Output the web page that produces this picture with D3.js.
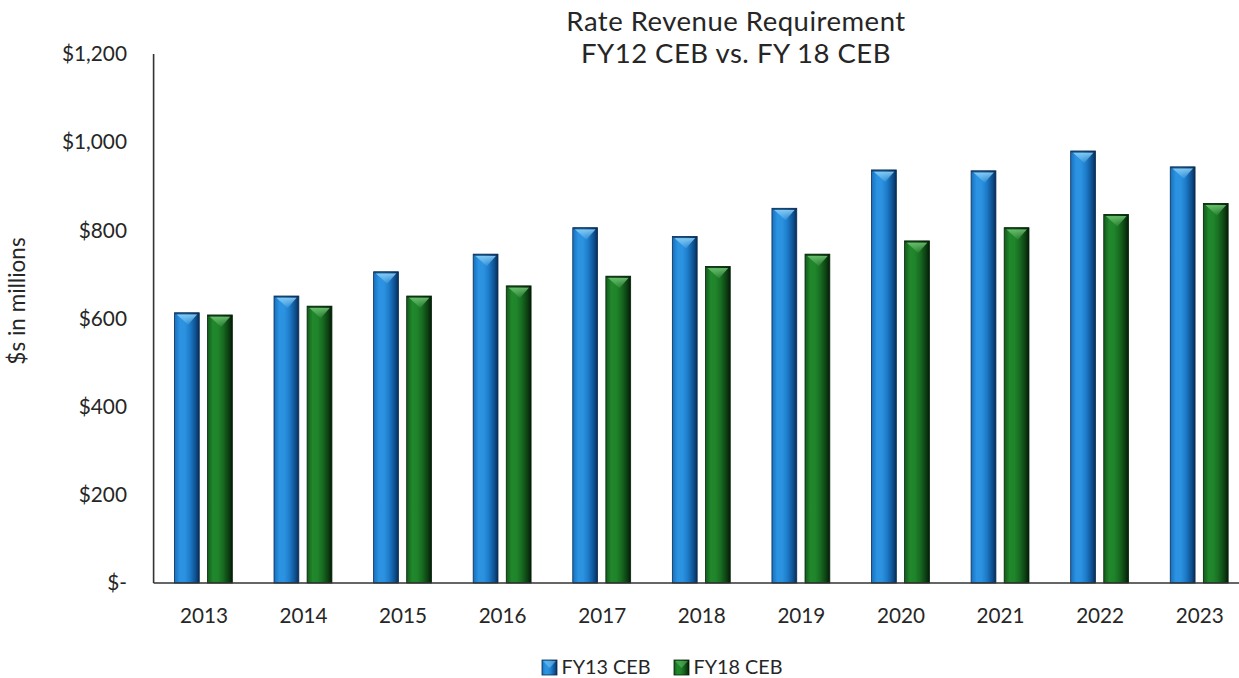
<!DOCTYPE html>
<html>
<head>
<meta charset="utf-8">
<script src="https://cdn.jsdelivr.net/npm/d3@7"></script>
<style>
  html, body { margin: 0; padding: 0; background: #fff; }
  svg { display: block; }
  text { font-family: Lato, "Open Sans", sans-serif; fill: #262626; }
</style>
</head>
<body>
<svg id="chart" width="1239" height="678"></svg>
<script>
// Rate revenue requirement, $ millions, by fiscal year
const years = ["2013", "2014", "2015", "2016", "2017", "2018", "2019", "2020", "2021", "2022", "2023"];
const fy13 = [613, 651, 706, 746, 806, 786, 850, 937, 935, 980, 944];
const fy18 = [608, 628, 651, 674, 696, 718, 746, 776, 806, 836, 861];
const seriesNames = ["FY13 CEB", "FY18 CEB"];
const yTicks = [0, 200, 400, 600, 800, 1000, 1200];
const titleLines = ["Rate Revenue Requirement", "FY12 CEB vs. FY 18 CEB"];
const yTitle = "$s in millions";

const svg = d3.select("#chart");
const W = 1239, H = 678;
const plot = { left: 153.6, right: 1249, top: 54, bottom: 583 };

const x = d3.scaleBand().domain(years).range([plot.left, plot.right]).paddingInner(0).paddingOuter(0);
const inner = d3.scaleBand().domain(seriesNames).range([0, x.bandwidth()]).paddingInner(0.25).paddingOuter(0.63);
const y = d3.scaleLinear().domain([0, 1200]).range([plot.bottom, plot.top]);

// column shading: each series gets a horizontal gradient and a bevel highlight
const palettes = {
  "FY13 CEB": { id: "gBlue", stops: ["#1770bd", "#2b93e2", "#2c92e0", "#1d7cca", "#0e4f8e", "#082c55"], hi: "#86cdf6", edge: "#0a2c52" },
  "FY18 CEB": { id: "gGreen", stops: ["#135a1c", "#21882c", "#1f842a", "#186c21", "#0c3e12", "#041b07"], hi: "#6cc070", edge: "#052208" }
};
const defs = svg.append("defs");
Object.values(palettes).forEach(p => {
  const g = defs.append("linearGradient").attr("id", p.id).attr("x1", "0").attr("x2", "1").attr("y1", "0").attr("y2", "0");
  const offs = [0, 0.22, 0.42, 0.62, 0.86, 1];
  p.stops.forEach((c, i) => g.append("stop").attr("offset", offs[i]).attr("stop-color", c));
  const t = defs.append("linearGradient").attr("id", p.id + "Top").attr("x1", "0").attr("x2", "0").attr("y1", "0").attr("y2", "1");
  t.append("stop").attr("offset", 0).attr("stop-color", p.hi).attr("stop-opacity", 0.95);
  t.append("stop").attr("offset", 1).attr("stop-color", p.hi).attr("stop-opacity", 0.15);
});

const rows = years.map((yr, i) => ({ year: yr, values: [
  { key: seriesNames[0], value: fy13[i] },
  { key: seriesNames[1], value: fy18[i] }
] }));

const groups = svg.append("g").selectAll("g").data(rows).join("g")
  .attr("transform", d => `translate(${x(d.year)},0)`);

const bars = groups.selectAll("g.bar").data(d => d.values).join("g").attr("class", "bar");

bars.append("rect")
  .attr("x", d => inner(d.key))
  .attr("y", d => y(d.value))
  .attr("width", inner.bandwidth())
  .attr("height", d => y(0) - y(d.value))
  .attr("fill", d => `url(#${palettes[d.key].id})`)
  .attr("stroke", d => palettes[d.key].edge)
  .attr("stroke-width", 0.8);

// bevelled top: V-shaped highlight facet
bars.append("path")
  .attr("d", d => {
    const x0 = inner(d.key), w = inner.bandwidth(), t = y(d.value);
    return `M${x0 + 2},${t + 1.5} L${x0 + w - 2},${t + 1.5} L${x0 + w * 0.55},${t + 12} Z`;
  })
  .attr("fill", d => `url(#${palettes[d.key].id}Top)`);

// darker top edge strip
bars.append("rect")
  .attr("x", d => inner(d.key) + 0.5)
  .attr("y", d => y(d.value))
  .attr("width", inner.bandwidth() - 1)
  .attr("height", 1.6)
  .attr("fill", d => palettes[d.key].edge)
  .attr("opacity", 0.6);

// axes
svg.append("line").attr("x1", plot.left).attr("x2", plot.left).attr("y1", plot.top).attr("y2", plot.bottom)
  .attr("stroke", "#333").attr("stroke-width", 1.6);
svg.append("line").attr("x1", plot.left).attr("x2", W).attr("y1", plot.bottom).attr("y2", plot.bottom)
  .attr("stroke", "#333").attr("stroke-width", 1.6);

const fmt = v => v === 0 ? "$-" : "$" + d3.format(",")(v);
svg.append("g").selectAll("text").data(yTicks).join("text")
  .attr("x", 127).attr("y", d => y(d)).attr("dy", "0.35em")
  .attr("text-anchor", "end").attr("font-size", 20.8)
  .text(fmt);

svg.append("g").selectAll("text").data(years).join("text")
  .attr("x", d => x(d) + x.bandwidth() / 2 + 0.5).attr("y", 616).attr("dy", "0.35em")
  .attr("text-anchor", "middle").attr("font-size", 20.7)
  .text(d => d);

svg.append("text")
  .attr("transform", `translate(17,301) rotate(-90)`)
  .attr("text-anchor", "middle").attr("dy", "0.35em").attr("font-size", 22.5)
  .text(yTitle);

// two-line title
svg.append("g").selectAll("text").data(titleLines).join("text")
  .attr("x", 736).attr("y", (d, i) => 31 + i * 32)
  .attr("text-anchor", "middle").attr("font-size", 27.5)
  .attr("letter-spacing", 0.5)
  .text(d => d);

// legend
const legend = svg.append("g");
const legendX = [542, 674];
seriesNames.forEach((name, i) => {
  const p = palettes[name];
  const g = legend.append("g").attr("transform", `translate(${legendX[i]},660)`);
  g.append("rect").attr("width", 15).attr("height", 15).attr("fill", `url(#${p.id})`).attr("stroke", p.edge).attr("stroke-width", 0.8);
  g.append("path").attr("d", "M1,1 L14,1 L7.5,8 Z").attr("fill", p.hi).attr("opacity", 0.5);
  g.append("text").attr("x", 19.5).attr("y", 7.5).attr("dy", "0.35em").attr("font-size", 19.8).text(name);
});
</script>
</body>
</html>
